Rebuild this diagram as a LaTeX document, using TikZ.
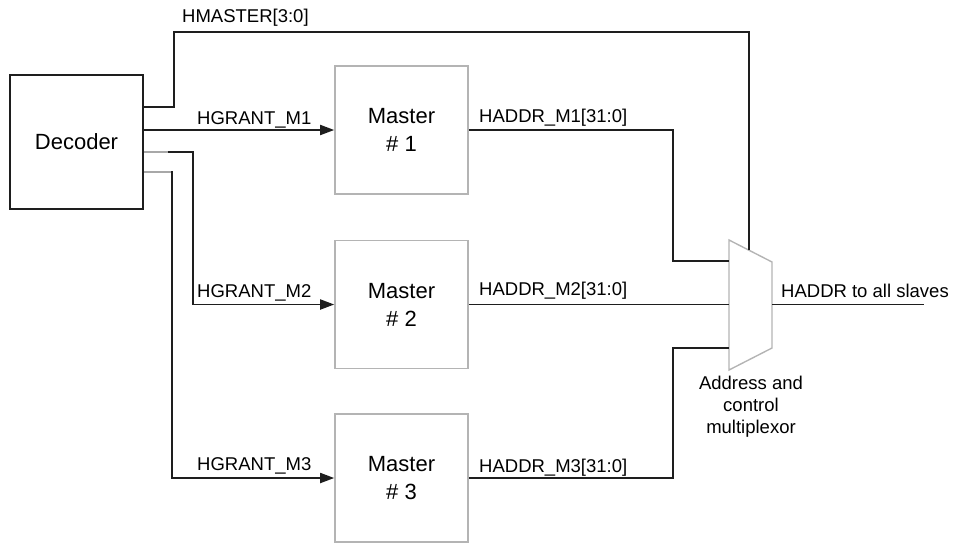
\documentclass[tikz,border=0pt]{standalone}
\usepackage{fontspec}
\setmainfont{Liberation Sans}
\usetikzlibrary{arrows.meta,calc}
\definecolor{wirecol}{HTML}{1E1E1E}
\definecolor{boxgray}{HTML}{B4B4B4}
\definecolor{stubgray}{HTML}{A8A8A8}
\begin{document}
\begin{tikzpicture}[x=1pt,y=-1pt,
  wire/.style={draw=wirecol, line width=1.8pt},
  stub/.style={draw=stubgray, line width=1.8pt},
  grant/.style={wire, -{Triangle[length=14pt,width=10pt]}},
  decbox/.style={draw=wirecol, line width=1.6pt, minimum width=133pt, minimum height=134pt,
    inner sep=0pt, font=\fontsize{22}{26}\selectfont},
  mbox/.style={draw=boxgray, line width=1.6pt, minimum width=133pt, minimum height=128pt,
    inner sep=0pt, align=center, font=\fontsize{22}{28}\selectfont},
  lbl/.style={inner sep=0pt, anchor=base west, font=\fontsize{18.5}{22}\selectfont},
]
\useasboundingbox (0,0) rectangle (957,544);

% blocks
\node[decbox] (dec) at (76.5,142) {Decoder};
\node[mbox] (m1) at (401.5,130) {Master\\\# 1};
\node[mbox] (m2) at (401.5,304.5) {Master\\\# 2};
\node[mbox] (m3) at (401.5,478) {Master\\\# 3};

% address / control multiplexer (trapezoid)
\coordinate (mxa) at (729,240);
\coordinate (mxb) at (772,262);
\coordinate (mxc) at (772,348);
\coordinate (mxd) at (729,370);
\draw[draw=boxgray, line width=1.4pt, line join=miter] (mxa) -- (mxb) -- (mxc) -- (mxd) -- cycle;
\coordinate (sel) at ($(mxa)!0.465!(mxb)$);
\coordinate (in1) at (729,261);
\coordinate (in2) at (m2.east -| mxa);
\coordinate (in3) at (729,348);
\coordinate (out) at (924,304.5);

% master select bus
\draw[wire] ($(dec.north east)+(0,33)$) -| (174,32) -| (sel);

% grant lines
\draw[grant] (dec.east |- m1.west) -- (m1.west);
\draw[grant] ($(dec.north east)+(0,78)$) -| ($(m2.west)+(-141,0)$) -- (m2.west);
\draw[grant] ($(dec.north east)+(0,98)$) -| ($(m3.west)+(-162,0)$) -- (m3.west);
\draw[stub] ($(dec.north east)+(0,78)$) -- +(24,0);
\draw[stub] ($(dec.north east)+(0,98)$) -- +(27,0);

% address buses into the multiplexer
\draw[wire] (m1.east) -| ($(in1)+(-56,0)$) -- (in1);
\draw[wire] (m2.east) -- (in2);
\draw[wire] (m3.east) -| ($(in3)+(-56,0)$) -- (in3);
\draw[wire] (mxb |- m2.east) -- (out);

% signal labels
\node[lbl] (tmaster) at (182,22) {HMASTER[3:0]};
\node[lbl] (tg1) at (197,124) {HGRANT\_M1};
\node[lbl] (tg2) at (197,297) {HGRANT\_M2};
\node[lbl] (tg3) at (197,470) {HGRANT\_M3};
\node[lbl] (ta1) at (479,122) {HADDR\_M1[31:0]};
\node[lbl] (ta2) at (479,295) {HADDR\_M2[31:0]};
\node[lbl] (ta3) at (479,472) {HADDR\_M3[31:0]};
\node[lbl] (tout) at (781,297) {HADDR to all slaves};
\node[inner sep=0pt, anchor=north, align=center, font=\fontsize{18.5}{22}\selectfont]
  (tmux) at (751,376) {Address and\\control\\multiplexor};
\end{tikzpicture}
\end{document}
